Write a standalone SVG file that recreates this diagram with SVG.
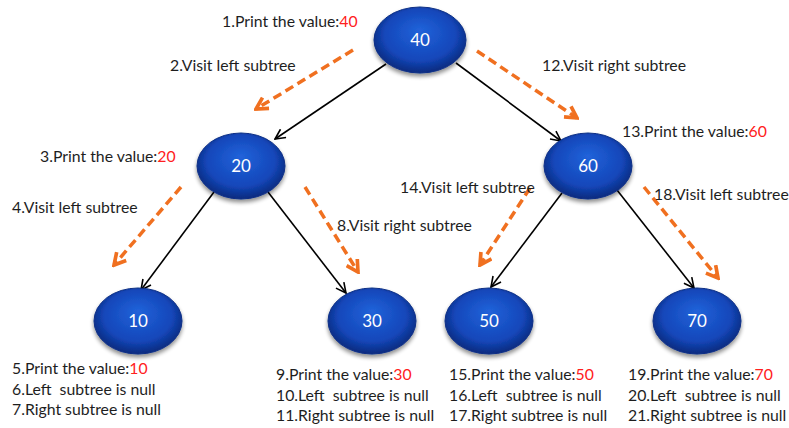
<svg xmlns="http://www.w3.org/2000/svg" width="789" height="428" viewBox="0 0 789 428">
  <defs>
    <radialGradient id="ball" cx="50%" cy="45%" r="55%" fx="50%" fy="35%">
      <stop offset="0" stop-color="#2163da"/>
      <stop offset="0.7" stop-color="#1447ba"/>
      <stop offset="1" stop-color="#0a2a7e"/>
    </radialGradient>
    <filter id="shadow" x="-20%" y="-20%" width="140%" height="150%">
      <feGaussianBlur in="SourceAlpha" stdDeviation="2"/>
      <feOffset dx="0" dy="3" result="b"/>
      <feComponentTransfer><feFuncA type="linear" slope="0.45"/></feComponentTransfer>
      <feMerge><feMergeNode/><feMergeNode in="SourceGraphic"/></feMerge>
    </filter>
    <marker id="blackHead" viewBox="0 0 12 12" refX="11" refY="6" markerWidth="12" markerHeight="12" markerUnits="userSpaceOnUse" orient="auto">
      <path d="M1,1 L11,6 L1,11" fill="none" stroke="#000" stroke-width="1.6"/>
    </marker>
    <marker id="orangeHead" viewBox="0 0 14 14" refX="12" refY="7" markerWidth="16" markerHeight="16" markerUnits="userSpaceOnUse" orient="auto">
      <path d="M2,1.5 L12,7 L2,12.5" fill="none" stroke="#f07020" stroke-width="3.2"/>
    </marker>
  </defs>
  <style>
    .node ellipse { fill: url(#ball); stroke: #0b2f86; stroke-width: 1; filter: url(#shadow); }
    .node text { fill: #fff; font-family: Lato, "Open Sans", sans-serif; font-size: 17px; text-anchor: middle; }
    .edge { stroke: #000; stroke-width: 1.6; fill: none; marker-end: url(#blackHead); }
    .walk { stroke: #f07020; stroke-width: 3.5; fill: none; stroke-dasharray: 9 5; marker-end: url(#orangeHead); }
    .lbl { font-family: Lato, "Open Sans", sans-serif; font-size: 15.8px; fill: #1e1e1e; }
    .val { fill: #ff2020; }
  </style>
  <rect width="789" height="428" fill="#fff"/>

  <g id="connectors">
    <line class="edge" x1="386" y1="64" x2="275" y2="139"/>
    <line class="edge" x1="456" y1="63" x2="561" y2="141"/>
    <line class="edge" x1="214" y1="192" x2="141" y2="290"/>
    <line class="edge" x1="268" y1="192" x2="346" y2="293"/>
    <line class="edge" x1="562" y1="193" x2="491" y2="287"/>
    <line class="edge" x1="617" y1="190" x2="694" y2="288"/>
    <line class="walk" x1="353" y1="50" x2="256" y2="109"/>
    <line class="walk" x1="477" y1="51" x2="577" y2="118"/>
    <line class="walk" x1="181" y1="187" x2="114" y2="265"/>
    <line class="walk" x1="305" y1="187" x2="358" y2="272"/>
    <line class="walk" x1="530" y1="188" x2="480" y2="265"/>
    <line class="walk" x1="644" y1="187" x2="718" y2="278"/>
  </g>

  <g id="n40" class="node"><ellipse cx="420" cy="40" rx="46" ry="33"/><text x="420" y="46">40</text></g>
  <g id="n20" class="node"><ellipse cx="241" cy="166" rx="44" ry="33"/><text x="241" y="172">20</text></g>
  <g id="n60" class="node"><ellipse cx="588" cy="166" rx="44" ry="33"/><text x="588" y="172">60</text></g>
  <g id="n10" class="node"><ellipse cx="138" cy="321" rx="44" ry="33"/><text x="138" y="327">10</text></g>
  <g id="n30" class="node"><ellipse cx="372" cy="321" rx="44" ry="33"/><text x="372" y="327">30</text></g>
  <g id="n50" class="node"><ellipse cx="489" cy="321" rx="44" ry="33"/><text x="489" y="327">50</text></g>
  <g id="n70" class="node"><ellipse cx="697" cy="321" rx="44" ry="33"/><text x="697" y="327">70</text></g>

  <g id="labels">
    <text class="lbl" x="222" y="27">1.Print the value:<tspan class="val">40</tspan></text>
    <text class="lbl" x="170" y="71">2.Visit left subtree</text>
    <text class="lbl" x="542" y="71">12.Visit right subtree</text>
    <text class="lbl" x="622" y="137">13.Print the value:<tspan class="val">60</tspan></text>
    <text class="lbl" x="40" y="162">3.Print the value:<tspan class="val">20</tspan></text>
    <text class="lbl" x="12" y="213">4.Visit left subtree</text>
    <text class="lbl" x="400" y="193">14.Visit left subtree</text>
    <text class="lbl" x="654" y="200">18.Visit left subtree</text>
    <text class="lbl" x="337" y="231">8.Visit right subtree</text>

    <text class="lbl" x="12" y="374">5.Print the value:<tspan class="val">10</tspan></text>
    <text class="lbl" x="12" y="395" xml:space="preserve">6.Left  subtree is null</text>
    <text class="lbl" x="12" y="415">7.Right subtree is null</text>

    <text class="lbl" x="276" y="380">9.Print the value:<tspan class="val">30</tspan></text>
    <text class="lbl" x="276" y="401" xml:space="preserve">10.Left  subtree is null</text>
    <text class="lbl" x="276" y="421">11.Right subtree is null</text>

    <text class="lbl" x="449" y="380">15.Print the value:<tspan class="val">50</tspan></text>
    <text class="lbl" x="449" y="401" xml:space="preserve">16.Left  subtree is null</text>
    <text class="lbl" x="449" y="421">17.Right subtree is null</text>

    <text class="lbl" x="628" y="380">19.Print the value:<tspan class="val">70</tspan></text>
    <text class="lbl" x="628" y="401" xml:space="preserve">20.Left  subtree is null</text>
    <text class="lbl" x="628" y="421">21.Right subtree is null</text>
  </g>
</svg>
